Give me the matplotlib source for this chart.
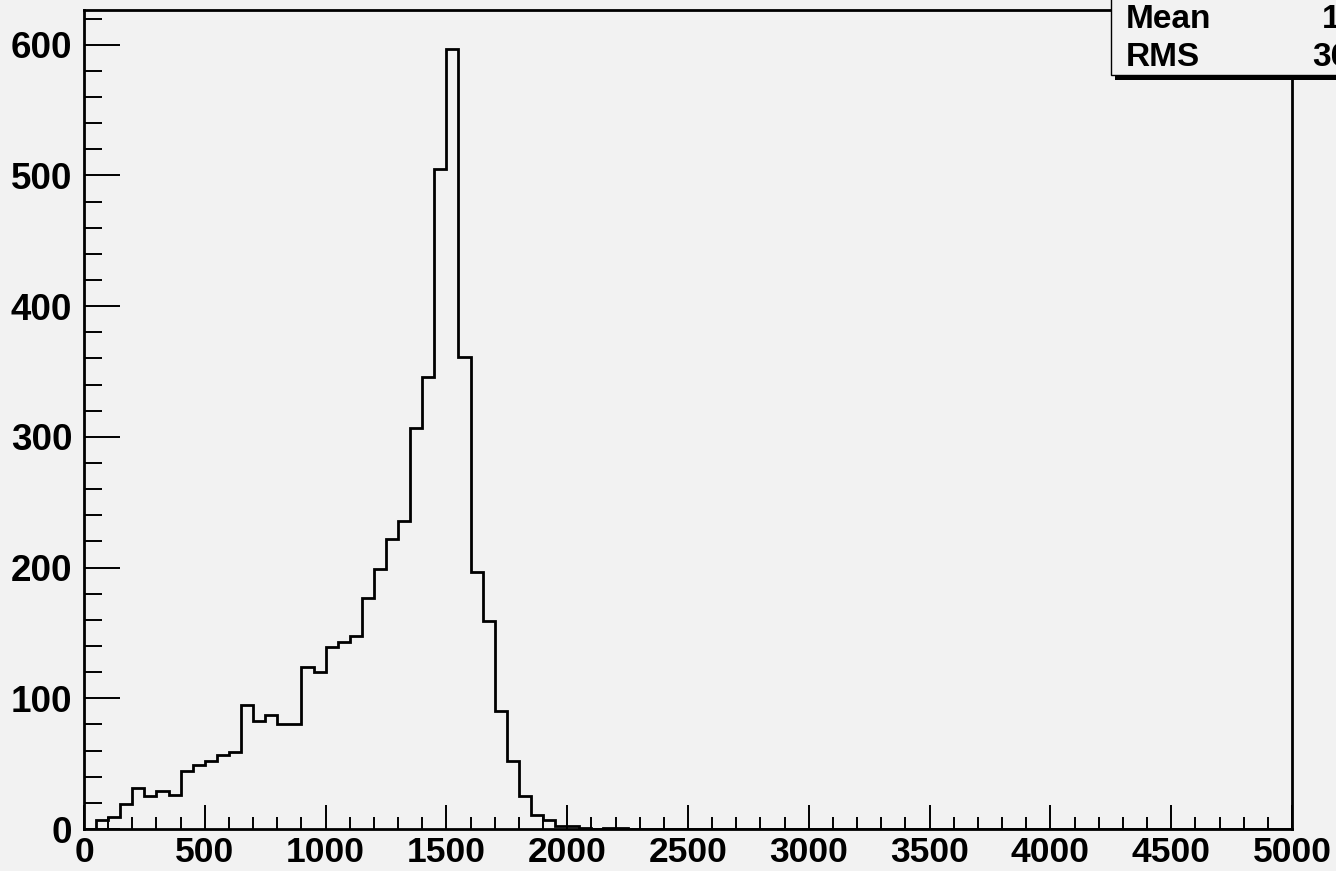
import numpy as np
import matplotlib
matplotlib.use("Agg")
import matplotlib.pyplot as plt
from matplotlib.patches import Rectangle
from matplotlib.ticker import MultipleLocator

# ---- data (bin contents, 100 bins of width 50 from 0 to 5000)
bin_edges = np.linspace(0, 5000, 101)
counts_head = [0, 7, 9, 19, 31, 25, 29, 26, 44, 49,
               52, 57, 59, 95, 83, 87, 80, 80, 124, 120,
               139, 143, 148, 177, 199, 222, 236, 307, 346, 505,
               597, 361, 197, 159, 90, 52, 25, 11, 7, 2,
               2, 1, 0, 1, 1]
counts = np.array(counts_head + [0] * (100 - len(counts_head)), dtype=float)
x_ticks = [0, 500, 1000, 1500, 2000, 2500, 3000, 3500, 4000, 4500, 5000]
y_ticks = [0, 100, 200, 300, 400, 500, 600]

W, H = 1336, 871
bg = "#f2f2f2"
font = "Liberation Sans"

fig = plt.figure(figsize=(W / 100, H / 100), dpi=100, facecolor=bg)
ax = fig.add_axes([84 / W, 1 - 829 / H, (1292 - 84) / W, (829 - 9.5) / H])
ax.set_facecolor(bg)

ax.stairs(counts, bin_edges, color="black", linewidth=2.0, baseline=0)

ax.set_xlim(0, 5000)
ax.set_ylim(0, 627)

ax.set_xticks(x_ticks)
ax.set_yticks(y_ticks)
ax.xaxis.set_minor_locator(MultipleLocator(100))
ax.yaxis.set_minor_locator(MultipleLocator(20))

for sp in ax.spines.values():
    sp.set_linewidth(2.0)
    sp.set_color("black")

ax.tick_params(axis="x", which="major", direction="in", length=17.3, width=1.4,
               pad=5, labelsize=25.5, top=False)
ax.tick_params(axis="x", which="minor", direction="in", length=8.6, width=1.4, top=False)
ax.tick_params(axis="y", which="major", direction="in", length=25.9, width=1.4,
               pad=8.5, labelsize=26.5, right=False)
ax.tick_params(axis="y", which="minor", direction="in", length=13, width=1.4, right=False)

for lab in ax.get_xticklabels() + ax.get_yticklabels():
    lab.set_fontfamily(font)
    lab.set_fontweight("bold")

# ---- statistics box (partly outside the canvas, as in the reference)
centers = 0.5 * (bin_edges[:-1] + bin_edges[1:])
mean = np.sum(centers * counts) / np.sum(counts)
rms = np.sqrt(np.sum(counts * (centers - mean) ** 2) / np.sum(counts))

def fx(px):
    return px / W

def fy(py):
    return 1 - py / H

shadow = Rectangle((fx(1115), fy(80)), fx(1420) - fx(1115), fy(-5) - fy(80),
                   transform=fig.transFigure, facecolor="black", edgecolor="none",
                   zorder=5)
box = Rectangle((fx(1111), fy(75.5)), fx(1420) - fx(1111), fy(-10) - fy(75.5),
                transform=fig.transFigure, facecolor=bg, edgecolor="black",
                linewidth=1.0, zorder=6)
fig.add_artist(shadow)
fig.add_artist(box)

stat_size = 24
fig.text(fx(1126), fy(28), "Mean", fontsize=stat_size, fontweight="bold", family=font,
         ha="left", va="baseline", zorder=7)
fig.text(fx(1126), fy(66), "RMS", fontsize=stat_size, fontweight="bold", family=font,
         ha="left", va="baseline", zorder=7)
fig.text(fx(1396), fy(28), f"{mean:.0f}", fontsize=stat_size, fontweight="bold", family=font,
         ha="right", va="baseline", zorder=7)
fig.text(fx(1396), fy(66), f"{rms:.1f}", fontsize=stat_size, fontweight="bold", family=font,
         ha="right", va="baseline", zorder=7)

fig.savefig("out.png", dpi=100, facecolor=bg)
